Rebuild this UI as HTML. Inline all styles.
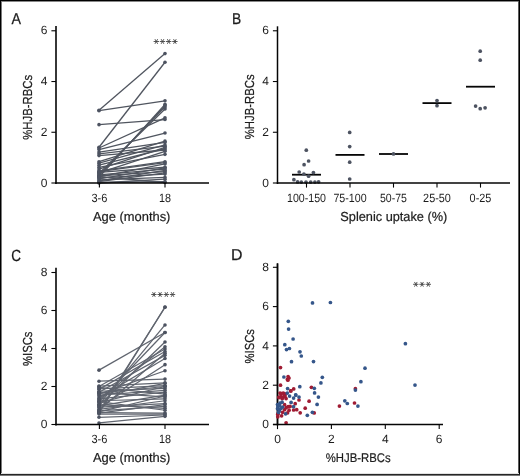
<!DOCTYPE html>
<html><head><meta charset="utf-8"><style>
html,body{margin:0;padding:0;background:#fff;}
body{width:520px;height:476px;overflow:hidden;position:relative;}
svg{position:absolute;left:0;top:0;filter:blur(0.3px);}
text{font-family:"Liberation Sans", sans-serif;text-rendering:geometricPrecision;stroke:#1c1c1c;stroke-width:0.2px;}
text.t{stroke:none;}
text.L{stroke-width:0.25px;}
.b{position:absolute;background:#000;}
</style></head><body>
<svg width="520" height="476" viewBox="0 0 520 476">
<rect x="0" y="0" width="520" height="476" fill="#fff"/>
<text x="11.60" y="24.40" font-size="15.8" text-anchor="start" fill="#1c1c1c" textLength="9.5" lengthAdjust="spacingAndGlyphs" class="L">A</text>
<line x1="56.00" y1="26.00" x2="56.00" y2="184.00" stroke="#050505" stroke-width="1.6" />
<line x1="51.40" y1="183.00" x2="56.00" y2="183.00" stroke="#050505" stroke-width="1.1" />
<text x="47.50" y="186.60" font-size="12" text-anchor="end" fill="#1c1c1c" class="t">0</text>
<line x1="51.40" y1="132.26" x2="56.00" y2="132.26" stroke="#050505" stroke-width="1.1" />
<text x="47.50" y="135.86" font-size="12" text-anchor="end" fill="#1c1c1c" class="t">2</text>
<line x1="51.40" y1="81.52" x2="56.00" y2="81.52" stroke="#050505" stroke-width="1.1" />
<text x="47.50" y="85.12" font-size="12" text-anchor="end" fill="#1c1c1c" class="t">4</text>
<line x1="51.40" y1="30.78" x2="56.00" y2="30.78" stroke="#050505" stroke-width="1.1" />
<text x="47.50" y="34.38" font-size="12" text-anchor="end" fill="#1c1c1c" class="t">6</text>
<text x="32.50" y="107.30" font-size="13.1" text-anchor="middle" fill="#1c1c1c" textLength="65" lengthAdjust="spacingAndGlyphs" transform="rotate(-90 32.50 107.30)" >%HJB-RBCs</text>
<line x1="154.00" y1="41.50" x2="158.60" y2="41.50" stroke="#444444" stroke-width="0.9" stroke-linecap="round"/>
<line x1="155.15" y1="39.51" x2="157.45" y2="43.49" stroke="#444444" stroke-width="0.9" stroke-linecap="round"/>
<line x1="157.45" y1="39.51" x2="155.15" y2="43.49" stroke="#444444" stroke-width="0.9" stroke-linecap="round"/>
<line x1="160.20" y1="41.50" x2="164.80" y2="41.50" stroke="#444444" stroke-width="0.9" stroke-linecap="round"/>
<line x1="161.35" y1="39.51" x2="163.65" y2="43.49" stroke="#444444" stroke-width="0.9" stroke-linecap="round"/>
<line x1="163.65" y1="39.51" x2="161.35" y2="43.49" stroke="#444444" stroke-width="0.9" stroke-linecap="round"/>
<line x1="166.40" y1="41.50" x2="171.00" y2="41.50" stroke="#444444" stroke-width="0.9" stroke-linecap="round"/>
<line x1="167.55" y1="39.51" x2="169.85" y2="43.49" stroke="#444444" stroke-width="0.9" stroke-linecap="round"/>
<line x1="169.85" y1="39.51" x2="167.55" y2="43.49" stroke="#444444" stroke-width="0.9" stroke-linecap="round"/>
<line x1="172.60" y1="41.50" x2="177.20" y2="41.50" stroke="#444444" stroke-width="0.9" stroke-linecap="round"/>
<line x1="173.75" y1="39.51" x2="176.05" y2="43.49" stroke="#444444" stroke-width="0.9" stroke-linecap="round"/>
<line x1="176.05" y1="39.51" x2="173.75" y2="43.49" stroke="#444444" stroke-width="0.9" stroke-linecap="round"/>
<line x1="99.00" y1="110.19" x2="165.00" y2="53.61" stroke="#50555f" stroke-width="1.3" />
<line x1="99.00" y1="110.70" x2="165.00" y2="100.80" stroke="#50555f" stroke-width="1.3" />
<line x1="99.00" y1="124.65" x2="165.00" y2="119.57" stroke="#50555f" stroke-width="1.3" />
<line x1="99.00" y1="147.23" x2="165.00" y2="62.24" stroke="#50555f" stroke-width="1.3" />
<line x1="99.00" y1="147.99" x2="165.00" y2="117.80" stroke="#50555f" stroke-width="1.3" />
<line x1="99.00" y1="149.51" x2="165.00" y2="133.02" stroke="#50555f" stroke-width="1.3" />
<line x1="99.00" y1="152.05" x2="165.00" y2="142.41" stroke="#50555f" stroke-width="1.3" />
<line x1="99.00" y1="153.82" x2="165.00" y2="146.21" stroke="#50555f" stroke-width="1.3" />
<line x1="99.00" y1="155.60" x2="165.00" y2="150.02" stroke="#50555f" stroke-width="1.3" />
<line x1="99.00" y1="177.42" x2="165.00" y2="104.35" stroke="#50555f" stroke-width="1.3" />
<line x1="99.00" y1="175.90" x2="165.00" y2="105.62" stroke="#50555f" stroke-width="1.3" />
<line x1="99.00" y1="174.88" x2="165.00" y2="106.89" stroke="#50555f" stroke-width="1.3" />
<line x1="99.00" y1="173.36" x2="165.00" y2="108.92" stroke="#50555f" stroke-width="1.3" />
<line x1="99.00" y1="161.69" x2="165.00" y2="141.14" stroke="#50555f" stroke-width="1.3" />
<line x1="99.00" y1="163.21" x2="165.00" y2="144.94" stroke="#50555f" stroke-width="1.3" />
<line x1="99.00" y1="165.24" x2="165.00" y2="148.75" stroke="#50555f" stroke-width="1.3" />
<line x1="99.00" y1="167.27" x2="165.00" y2="154.33" stroke="#50555f" stroke-width="1.3" />
<line x1="99.00" y1="169.05" x2="165.00" y2="147.48" stroke="#50555f" stroke-width="1.3" />
<line x1="99.00" y1="170.82" x2="165.00" y2="161.69" stroke="#50555f" stroke-width="1.3" />
<line x1="99.00" y1="172.85" x2="165.00" y2="151.29" stroke="#50555f" stroke-width="1.3" />
<line x1="99.00" y1="171.58" x2="165.00" y2="162.70" stroke="#50555f" stroke-width="1.3" />
<line x1="99.00" y1="172.34" x2="165.00" y2="167.27" stroke="#50555f" stroke-width="1.3" />
<line x1="99.00" y1="174.88" x2="165.00" y2="169.05" stroke="#50555f" stroke-width="1.3" />
<line x1="99.00" y1="175.90" x2="165.00" y2="171.58" stroke="#50555f" stroke-width="1.3" />
<line x1="99.00" y1="176.91" x2="165.00" y2="163.97" stroke="#50555f" stroke-width="1.3" />
<line x1="99.00" y1="177.93" x2="165.00" y2="174.12" stroke="#50555f" stroke-width="1.3" />
<line x1="99.00" y1="178.94" x2="165.00" y2="167.78" stroke="#50555f" stroke-width="1.3" />
<line x1="99.00" y1="179.96" x2="165.00" y2="177.42" stroke="#50555f" stroke-width="1.3" />
<line x1="99.00" y1="180.97" x2="165.00" y2="170.31" stroke="#50555f" stroke-width="1.3" />
<line x1="99.00" y1="181.73" x2="165.00" y2="172.85" stroke="#50555f" stroke-width="1.3" />
<line x1="99.00" y1="182.49" x2="165.00" y2="181.73" stroke="#50555f" stroke-width="1.3" />
<line x1="99.00" y1="183.00" x2="165.00" y2="179.19" stroke="#50555f" stroke-width="1.3" />
<line x1="99.00" y1="176.66" x2="165.00" y2="182.49" stroke="#50555f" stroke-width="1.3" />
<circle cx="99.00" cy="110.19" r="1.8" fill="#4d5361"/>
<circle cx="165.00" cy="53.61" r="1.8" fill="#4d5361"/>
<circle cx="99.00" cy="110.70" r="1.8" fill="#4d5361"/>
<circle cx="165.00" cy="100.80" r="1.8" fill="#4d5361"/>
<circle cx="99.00" cy="124.65" r="1.8" fill="#4d5361"/>
<circle cx="165.00" cy="119.57" r="1.8" fill="#4d5361"/>
<circle cx="99.00" cy="147.23" r="1.8" fill="#4d5361"/>
<circle cx="165.00" cy="62.24" r="1.8" fill="#4d5361"/>
<circle cx="99.00" cy="147.99" r="1.8" fill="#4d5361"/>
<circle cx="165.00" cy="117.80" r="1.8" fill="#4d5361"/>
<circle cx="99.00" cy="149.51" r="1.8" fill="#4d5361"/>
<circle cx="165.00" cy="133.02" r="1.8" fill="#4d5361"/>
<circle cx="99.00" cy="152.05" r="1.8" fill="#4d5361"/>
<circle cx="165.00" cy="142.41" r="1.8" fill="#4d5361"/>
<circle cx="99.00" cy="153.82" r="1.8" fill="#4d5361"/>
<circle cx="165.00" cy="146.21" r="1.8" fill="#4d5361"/>
<circle cx="99.00" cy="155.60" r="1.8" fill="#4d5361"/>
<circle cx="165.00" cy="150.02" r="1.8" fill="#4d5361"/>
<circle cx="99.00" cy="177.42" r="1.8" fill="#4d5361"/>
<circle cx="165.00" cy="104.35" r="1.8" fill="#4d5361"/>
<circle cx="99.00" cy="175.90" r="1.8" fill="#4d5361"/>
<circle cx="165.00" cy="105.62" r="1.8" fill="#4d5361"/>
<circle cx="99.00" cy="174.88" r="1.8" fill="#4d5361"/>
<circle cx="165.00" cy="106.89" r="1.8" fill="#4d5361"/>
<circle cx="99.00" cy="173.36" r="1.8" fill="#4d5361"/>
<circle cx="165.00" cy="108.92" r="1.8" fill="#4d5361"/>
<circle cx="99.00" cy="161.69" r="1.8" fill="#4d5361"/>
<circle cx="165.00" cy="141.14" r="1.8" fill="#4d5361"/>
<circle cx="99.00" cy="163.21" r="1.8" fill="#4d5361"/>
<circle cx="165.00" cy="144.94" r="1.8" fill="#4d5361"/>
<circle cx="99.00" cy="165.24" r="1.8" fill="#4d5361"/>
<circle cx="165.00" cy="148.75" r="1.8" fill="#4d5361"/>
<circle cx="99.00" cy="167.27" r="1.8" fill="#4d5361"/>
<circle cx="165.00" cy="154.33" r="1.8" fill="#4d5361"/>
<circle cx="99.00" cy="169.05" r="1.8" fill="#4d5361"/>
<circle cx="165.00" cy="147.48" r="1.8" fill="#4d5361"/>
<circle cx="99.00" cy="170.82" r="1.8" fill="#4d5361"/>
<circle cx="165.00" cy="161.69" r="1.8" fill="#4d5361"/>
<circle cx="99.00" cy="172.85" r="1.8" fill="#4d5361"/>
<circle cx="165.00" cy="151.29" r="1.8" fill="#4d5361"/>
<circle cx="99.00" cy="171.58" r="1.8" fill="#4d5361"/>
<circle cx="165.00" cy="162.70" r="1.8" fill="#4d5361"/>
<circle cx="99.00" cy="172.34" r="1.8" fill="#4d5361"/>
<circle cx="165.00" cy="167.27" r="1.8" fill="#4d5361"/>
<circle cx="99.00" cy="174.88" r="1.8" fill="#4d5361"/>
<circle cx="165.00" cy="169.05" r="1.8" fill="#4d5361"/>
<circle cx="99.00" cy="175.90" r="1.8" fill="#4d5361"/>
<circle cx="165.00" cy="171.58" r="1.8" fill="#4d5361"/>
<circle cx="99.00" cy="176.91" r="1.8" fill="#4d5361"/>
<circle cx="165.00" cy="163.97" r="1.8" fill="#4d5361"/>
<circle cx="99.00" cy="177.93" r="1.8" fill="#4d5361"/>
<circle cx="165.00" cy="174.12" r="1.8" fill="#4d5361"/>
<circle cx="99.00" cy="178.94" r="1.8" fill="#4d5361"/>
<circle cx="165.00" cy="167.78" r="1.8" fill="#4d5361"/>
<circle cx="99.00" cy="179.96" r="1.8" fill="#4d5361"/>
<circle cx="165.00" cy="177.42" r="1.8" fill="#4d5361"/>
<circle cx="99.00" cy="180.97" r="1.8" fill="#4d5361"/>
<circle cx="165.00" cy="170.31" r="1.8" fill="#4d5361"/>
<circle cx="99.00" cy="181.73" r="1.8" fill="#4d5361"/>
<circle cx="165.00" cy="172.85" r="1.8" fill="#4d5361"/>
<circle cx="99.00" cy="182.49" r="1.8" fill="#4d5361"/>
<circle cx="165.00" cy="181.73" r="1.8" fill="#4d5361"/>
<circle cx="99.00" cy="183.00" r="1.8" fill="#4d5361"/>
<circle cx="165.00" cy="179.19" r="1.8" fill="#4d5361"/>
<circle cx="99.00" cy="176.66" r="1.8" fill="#4d5361"/>
<circle cx="165.00" cy="182.49" r="1.8" fill="#4d5361"/>
<line x1="55.20" y1="183.00" x2="209.00" y2="183.00" stroke="#050505" stroke-width="1.7" />
<line x1="99.40" y1="183.00" x2="99.40" y2="187.60" stroke="#050505" stroke-width="1.1" />
<text x="99.40" y="201.60" font-size="12" text-anchor="middle" fill="#1c1c1c" textLength="16" lengthAdjust="spacingAndGlyphs" class="t">3-6</text>
<line x1="165.00" y1="183.00" x2="165.00" y2="187.60" stroke="#050505" stroke-width="1.1" />
<text x="165.00" y="201.60" font-size="12" text-anchor="middle" fill="#1c1c1c" textLength="12" lengthAdjust="spacingAndGlyphs" class="t">18</text>
<text x="131.70" y="220.90" font-size="13.1" text-anchor="middle" fill="#1c1c1c" textLength="77.5" lengthAdjust="spacingAndGlyphs" >Age (months)</text>
<text x="232.00" y="23.90" font-size="15.6" text-anchor="start" fill="#1c1c1c" textLength="9.2" lengthAdjust="spacingAndGlyphs" class="L">B</text>
<line x1="277.50" y1="26.30" x2="277.50" y2="184.00" stroke="#050505" stroke-width="1.5" />
<line x1="272.90" y1="183.00" x2="277.50" y2="183.00" stroke="#050505" stroke-width="1.1" />
<text x="269.00" y="186.60" font-size="12" text-anchor="end" fill="#1c1c1c" class="t">0</text>
<line x1="272.90" y1="132.26" x2="277.50" y2="132.26" stroke="#050505" stroke-width="1.1" />
<text x="269.00" y="135.86" font-size="12" text-anchor="end" fill="#1c1c1c" class="t">2</text>
<line x1="272.90" y1="81.52" x2="277.50" y2="81.52" stroke="#050505" stroke-width="1.1" />
<text x="269.00" y="85.12" font-size="12" text-anchor="end" fill="#1c1c1c" class="t">4</text>
<line x1="272.90" y1="30.78" x2="277.50" y2="30.78" stroke="#050505" stroke-width="1.1" />
<text x="269.00" y="34.38" font-size="12" text-anchor="end" fill="#1c1c1c" class="t">6</text>
<text x="254.10" y="106.80" font-size="13.1" text-anchor="middle" fill="#1c1c1c" textLength="65" lengthAdjust="spacingAndGlyphs" transform="rotate(-90 254.10 106.80)" >%HJB-RBCs</text>
<line x1="292.00" y1="174.70" x2="321.00" y2="174.70" stroke="#050505" stroke-width="1.8" />
<line x1="335.50" y1="154.90" x2="364.50" y2="154.90" stroke="#050505" stroke-width="1.8" />
<line x1="379.00" y1="154.00" x2="408.00" y2="154.00" stroke="#050505" stroke-width="1.8" />
<line x1="422.50" y1="103.10" x2="451.50" y2="103.10" stroke="#050505" stroke-width="1.8" />
<line x1="466.00" y1="86.70" x2="495.00" y2="86.70" stroke="#050505" stroke-width="1.8" />
<circle cx="306.30" cy="150.20" r="1.85" fill="#4d5361"/>
<circle cx="308.60" cy="161.00" r="1.85" fill="#4d5361"/>
<circle cx="304.10" cy="164.70" r="1.85" fill="#4d5361"/>
<circle cx="299.20" cy="172.00" r="1.85" fill="#4d5361"/>
<circle cx="303.90" cy="174.10" r="1.85" fill="#4d5361"/>
<circle cx="308.60" cy="176.20" r="1.85" fill="#4d5361"/>
<circle cx="313.40" cy="172.60" r="1.85" fill="#4d5361"/>
<circle cx="293.90" cy="179.70" r="1.85" fill="#4d5361"/>
<circle cx="297.60" cy="181.90" r="1.85" fill="#4d5361"/>
<circle cx="301.30" cy="182.10" r="1.85" fill="#4d5361"/>
<circle cx="306.00" cy="182.10" r="1.85" fill="#4d5361"/>
<circle cx="310.70" cy="182.10" r="1.85" fill="#4d5361"/>
<circle cx="314.90" cy="182.10" r="1.85" fill="#4d5361"/>
<circle cx="318.60" cy="181.80" r="1.85" fill="#4d5361"/>
<circle cx="349.70" cy="132.40" r="1.85" fill="#4d5361"/>
<circle cx="349.70" cy="146.60" r="1.85" fill="#4d5361"/>
<circle cx="349.70" cy="162.20" r="1.85" fill="#4d5361"/>
<circle cx="349.70" cy="179.00" r="1.85" fill="#4d5361"/>
<circle cx="393.50" cy="153.90" r="1.85" fill="#4d5361"/>
<circle cx="437.00" cy="100.60" r="1.85" fill="#4d5361"/>
<circle cx="437.00" cy="105.70" r="1.85" fill="#4d5361"/>
<circle cx="480.20" cy="51.20" r="1.85" fill="#4d5361"/>
<circle cx="480.20" cy="60.20" r="1.85" fill="#4d5361"/>
<circle cx="475.60" cy="106.10" r="1.85" fill="#4d5361"/>
<circle cx="480.20" cy="108.70" r="1.85" fill="#4d5361"/>
<circle cx="485.10" cy="107.80" r="1.85" fill="#4d5361"/>
<line x1="276.80" y1="183.00" x2="510.00" y2="183.00" stroke="#050505" stroke-width="1.7" />
<line x1="306.50" y1="183.00" x2="306.50" y2="187.60" stroke="#050505" stroke-width="1.1" />
<text x="306.50" y="201.50" font-size="12" text-anchor="middle" fill="#1c1c1c" textLength="39" lengthAdjust="spacingAndGlyphs" class="t">100-150</text>
<line x1="350.00" y1="183.00" x2="350.00" y2="187.60" stroke="#050505" stroke-width="1.1" />
<text x="350.00" y="201.50" font-size="12" text-anchor="middle" fill="#1c1c1c" textLength="33.2" lengthAdjust="spacingAndGlyphs" class="t">75-100</text>
<line x1="393.50" y1="183.00" x2="393.50" y2="187.60" stroke="#050505" stroke-width="1.1" />
<text x="393.50" y="201.50" font-size="12" text-anchor="middle" fill="#1c1c1c" textLength="27" lengthAdjust="spacingAndGlyphs" class="t">50-75</text>
<line x1="437.00" y1="183.00" x2="437.00" y2="187.60" stroke="#050505" stroke-width="1.1" />
<text x="437.00" y="201.50" font-size="12" text-anchor="middle" fill="#1c1c1c" textLength="27.8" lengthAdjust="spacingAndGlyphs" class="t">25-50</text>
<line x1="480.50" y1="183.00" x2="480.50" y2="187.60" stroke="#050505" stroke-width="1.1" />
<text x="480.50" y="201.50" font-size="12" text-anchor="middle" fill="#1c1c1c" textLength="21.8" lengthAdjust="spacingAndGlyphs" class="t">0-25</text>
<text x="393.80" y="220.60" font-size="13.1" text-anchor="middle" fill="#1c1c1c" textLength="107" lengthAdjust="spacingAndGlyphs" >Splenic uptake (%)</text>
<text x="11.20" y="260.60" font-size="16.3" text-anchor="start" fill="#1c1c1c" textLength="9.8" lengthAdjust="spacingAndGlyphs" class="L">C</text>
<line x1="56.00" y1="267.70" x2="56.00" y2="425.50" stroke="#050505" stroke-width="1.6" />
<line x1="51.40" y1="424.50" x2="56.00" y2="424.50" stroke="#050505" stroke-width="1.1" />
<text x="47.50" y="428.10" font-size="12" text-anchor="end" fill="#1c1c1c" class="t">0</text>
<line x1="51.40" y1="386.50" x2="56.00" y2="386.50" stroke="#050505" stroke-width="1.1" />
<text x="47.50" y="390.10" font-size="12" text-anchor="end" fill="#1c1c1c" class="t">2</text>
<line x1="51.40" y1="348.50" x2="56.00" y2="348.50" stroke="#050505" stroke-width="1.1" />
<text x="47.50" y="352.10" font-size="12" text-anchor="end" fill="#1c1c1c" class="t">4</text>
<line x1="51.40" y1="310.50" x2="56.00" y2="310.50" stroke="#050505" stroke-width="1.1" />
<text x="47.50" y="314.10" font-size="12" text-anchor="end" fill="#1c1c1c" class="t">6</text>
<line x1="51.40" y1="272.50" x2="56.00" y2="272.50" stroke="#050505" stroke-width="1.1" />
<text x="47.50" y="276.10" font-size="12" text-anchor="end" fill="#1c1c1c" class="t">8</text>
<text x="32.50" y="348.80" font-size="13.1" text-anchor="middle" fill="#1c1c1c" textLength="34.4" lengthAdjust="spacingAndGlyphs" transform="rotate(-90 32.50 348.80)" >%ISCs</text>
<line x1="151.60" y1="294.50" x2="156.20" y2="294.50" stroke="#444444" stroke-width="0.9" stroke-linecap="round"/>
<line x1="152.75" y1="292.51" x2="155.05" y2="296.49" stroke="#444444" stroke-width="0.9" stroke-linecap="round"/>
<line x1="155.05" y1="292.51" x2="152.75" y2="296.49" stroke="#444444" stroke-width="0.9" stroke-linecap="round"/>
<line x1="157.80" y1="294.50" x2="162.40" y2="294.50" stroke="#444444" stroke-width="0.9" stroke-linecap="round"/>
<line x1="158.95" y1="292.51" x2="161.25" y2="296.49" stroke="#444444" stroke-width="0.9" stroke-linecap="round"/>
<line x1="161.25" y1="292.51" x2="158.95" y2="296.49" stroke="#444444" stroke-width="0.9" stroke-linecap="round"/>
<line x1="164.00" y1="294.50" x2="168.60" y2="294.50" stroke="#444444" stroke-width="0.9" stroke-linecap="round"/>
<line x1="165.15" y1="292.51" x2="167.45" y2="296.49" stroke="#444444" stroke-width="0.9" stroke-linecap="round"/>
<line x1="167.45" y1="292.51" x2="165.15" y2="296.49" stroke="#444444" stroke-width="0.9" stroke-linecap="round"/>
<line x1="170.20" y1="294.50" x2="174.80" y2="294.50" stroke="#444444" stroke-width="0.9" stroke-linecap="round"/>
<line x1="171.35" y1="292.51" x2="173.65" y2="296.49" stroke="#444444" stroke-width="0.9" stroke-linecap="round"/>
<line x1="173.65" y1="292.51" x2="171.35" y2="296.49" stroke="#444444" stroke-width="0.9" stroke-linecap="round"/>
<line x1="99.00" y1="370.16" x2="165.00" y2="332.54" stroke="#60656f" stroke-width="1.25" />
<line x1="99.00" y1="381.18" x2="165.00" y2="379.09" stroke="#60656f" stroke-width="1.25" />
<line x1="99.00" y1="413.10" x2="165.00" y2="307.08" stroke="#60656f" stroke-width="1.25" />
<line x1="99.00" y1="411.58" x2="165.00" y2="307.27" stroke="#60656f" stroke-width="1.25" />
<line x1="99.00" y1="404.55" x2="165.00" y2="324.94" stroke="#60656f" stroke-width="1.25" />
<line x1="99.00" y1="401.70" x2="165.00" y2="332.54" stroke="#60656f" stroke-width="1.25" />
<line x1="99.00" y1="405.50" x2="165.00" y2="342.04" stroke="#60656f" stroke-width="1.25" />
<line x1="99.00" y1="399.80" x2="165.00" y2="346.79" stroke="#60656f" stroke-width="1.25" />
<line x1="99.00" y1="386.50" x2="165.00" y2="349.07" stroke="#60656f" stroke-width="1.25" />
<line x1="99.00" y1="389.35" x2="165.00" y2="351.54" stroke="#60656f" stroke-width="1.25" />
<line x1="99.00" y1="410.25" x2="165.00" y2="353.25" stroke="#60656f" stroke-width="1.25" />
<line x1="99.00" y1="392.20" x2="165.00" y2="355.34" stroke="#60656f" stroke-width="1.25" />
<line x1="99.00" y1="397.90" x2="165.00" y2="358.57" stroke="#60656f" stroke-width="1.25" />
<line x1="99.00" y1="407.40" x2="165.00" y2="364.65" stroke="#60656f" stroke-width="1.25" />
<line x1="99.00" y1="394.10" x2="165.00" y2="370.73" stroke="#60656f" stroke-width="1.25" />
<line x1="99.00" y1="386.12" x2="165.00" y2="382.89" stroke="#60656f" stroke-width="1.25" />
<line x1="99.00" y1="387.45" x2="165.00" y2="394.10" stroke="#60656f" stroke-width="1.25" />
<line x1="99.00" y1="388.78" x2="165.00" y2="385.55" stroke="#60656f" stroke-width="1.25" />
<line x1="99.00" y1="391.25" x2="165.00" y2="388.40" stroke="#60656f" stroke-width="1.25" />
<line x1="99.00" y1="392.58" x2="165.00" y2="396.95" stroke="#60656f" stroke-width="1.25" />
<line x1="99.00" y1="395.05" x2="165.00" y2="390.30" stroke="#60656f" stroke-width="1.25" />
<line x1="99.00" y1="398.85" x2="165.00" y2="392.20" stroke="#60656f" stroke-width="1.25" />
<line x1="99.00" y1="400.75" x2="165.00" y2="398.85" stroke="#60656f" stroke-width="1.25" />
<line x1="99.00" y1="402.65" x2="165.00" y2="386.50" stroke="#60656f" stroke-width="1.25" />
<line x1="99.00" y1="404.55" x2="165.00" y2="408.35" stroke="#60656f" stroke-width="1.25" />
<line x1="99.00" y1="405.88" x2="165.00" y2="395.05" stroke="#60656f" stroke-width="1.25" />
<line x1="99.00" y1="407.02" x2="165.00" y2="403.60" stroke="#60656f" stroke-width="1.25" />
<line x1="99.00" y1="409.30" x2="165.00" y2="400.75" stroke="#60656f" stroke-width="1.25" />
<line x1="99.00" y1="410.82" x2="165.00" y2="406.45" stroke="#60656f" stroke-width="1.25" />
<line x1="99.00" y1="411.96" x2="165.00" y2="396.00" stroke="#60656f" stroke-width="1.25" />
<line x1="99.00" y1="412.72" x2="165.00" y2="413.10" stroke="#60656f" stroke-width="1.25" />
<line x1="99.00" y1="414.05" x2="165.00" y2="414.05" stroke="#60656f" stroke-width="1.25" />
<line x1="99.00" y1="417.28" x2="165.00" y2="415.00" stroke="#60656f" stroke-width="1.25" />
<line x1="99.00" y1="422.98" x2="165.00" y2="416.33" stroke="#60656f" stroke-width="1.25" />
<line x1="99.00" y1="396.00" x2="165.00" y2="383.27" stroke="#60656f" stroke-width="1.25" />
<line x1="99.00" y1="401.70" x2="165.00" y2="410.25" stroke="#60656f" stroke-width="1.25" />
<line x1="99.00" y1="393.15" x2="165.00" y2="386.50" stroke="#60656f" stroke-width="1.25" />
<line x1="99.00" y1="413.10" x2="165.00" y2="404.55" stroke="#60656f" stroke-width="1.25" />
<circle cx="99.00" cy="370.16" r="1.8" fill="#4d5361"/>
<circle cx="165.00" cy="332.54" r="1.8" fill="#4d5361"/>
<circle cx="99.00" cy="381.18" r="1.8" fill="#4d5361"/>
<circle cx="165.00" cy="379.09" r="1.8" fill="#4d5361"/>
<circle cx="99.00" cy="413.10" r="1.8" fill="#4d5361"/>
<circle cx="165.00" cy="307.08" r="1.8" fill="#4d5361"/>
<circle cx="99.00" cy="411.58" r="1.8" fill="#4d5361"/>
<circle cx="165.00" cy="307.27" r="1.8" fill="#4d5361"/>
<circle cx="99.00" cy="404.55" r="1.8" fill="#4d5361"/>
<circle cx="165.00" cy="324.94" r="1.8" fill="#4d5361"/>
<circle cx="99.00" cy="401.70" r="1.8" fill="#4d5361"/>
<circle cx="165.00" cy="332.54" r="1.8" fill="#4d5361"/>
<circle cx="99.00" cy="405.50" r="1.8" fill="#4d5361"/>
<circle cx="165.00" cy="342.04" r="1.8" fill="#4d5361"/>
<circle cx="99.00" cy="399.80" r="1.8" fill="#4d5361"/>
<circle cx="165.00" cy="346.79" r="1.8" fill="#4d5361"/>
<circle cx="99.00" cy="386.50" r="1.8" fill="#4d5361"/>
<circle cx="165.00" cy="349.07" r="1.8" fill="#4d5361"/>
<circle cx="99.00" cy="389.35" r="1.8" fill="#4d5361"/>
<circle cx="165.00" cy="351.54" r="1.8" fill="#4d5361"/>
<circle cx="99.00" cy="410.25" r="1.8" fill="#4d5361"/>
<circle cx="165.00" cy="353.25" r="1.8" fill="#4d5361"/>
<circle cx="99.00" cy="392.20" r="1.8" fill="#4d5361"/>
<circle cx="165.00" cy="355.34" r="1.8" fill="#4d5361"/>
<circle cx="99.00" cy="397.90" r="1.8" fill="#4d5361"/>
<circle cx="165.00" cy="358.57" r="1.8" fill="#4d5361"/>
<circle cx="99.00" cy="407.40" r="1.8" fill="#4d5361"/>
<circle cx="165.00" cy="364.65" r="1.8" fill="#4d5361"/>
<circle cx="99.00" cy="394.10" r="1.8" fill="#4d5361"/>
<circle cx="165.00" cy="370.73" r="1.8" fill="#4d5361"/>
<circle cx="99.00" cy="386.12" r="1.8" fill="#4d5361"/>
<circle cx="165.00" cy="382.89" r="1.8" fill="#4d5361"/>
<circle cx="99.00" cy="387.45" r="1.8" fill="#4d5361"/>
<circle cx="165.00" cy="394.10" r="1.8" fill="#4d5361"/>
<circle cx="99.00" cy="388.78" r="1.8" fill="#4d5361"/>
<circle cx="165.00" cy="385.55" r="1.8" fill="#4d5361"/>
<circle cx="99.00" cy="391.25" r="1.8" fill="#4d5361"/>
<circle cx="165.00" cy="388.40" r="1.8" fill="#4d5361"/>
<circle cx="99.00" cy="392.58" r="1.8" fill="#4d5361"/>
<circle cx="165.00" cy="396.95" r="1.8" fill="#4d5361"/>
<circle cx="99.00" cy="395.05" r="1.8" fill="#4d5361"/>
<circle cx="165.00" cy="390.30" r="1.8" fill="#4d5361"/>
<circle cx="99.00" cy="398.85" r="1.8" fill="#4d5361"/>
<circle cx="165.00" cy="392.20" r="1.8" fill="#4d5361"/>
<circle cx="99.00" cy="400.75" r="1.8" fill="#4d5361"/>
<circle cx="165.00" cy="398.85" r="1.8" fill="#4d5361"/>
<circle cx="99.00" cy="402.65" r="1.8" fill="#4d5361"/>
<circle cx="165.00" cy="386.50" r="1.8" fill="#4d5361"/>
<circle cx="99.00" cy="404.55" r="1.8" fill="#4d5361"/>
<circle cx="165.00" cy="408.35" r="1.8" fill="#4d5361"/>
<circle cx="99.00" cy="405.88" r="1.8" fill="#4d5361"/>
<circle cx="165.00" cy="395.05" r="1.8" fill="#4d5361"/>
<circle cx="99.00" cy="407.02" r="1.8" fill="#4d5361"/>
<circle cx="165.00" cy="403.60" r="1.8" fill="#4d5361"/>
<circle cx="99.00" cy="409.30" r="1.8" fill="#4d5361"/>
<circle cx="165.00" cy="400.75" r="1.8" fill="#4d5361"/>
<circle cx="99.00" cy="410.82" r="1.8" fill="#4d5361"/>
<circle cx="165.00" cy="406.45" r="1.8" fill="#4d5361"/>
<circle cx="99.00" cy="411.96" r="1.8" fill="#4d5361"/>
<circle cx="165.00" cy="396.00" r="1.8" fill="#4d5361"/>
<circle cx="99.00" cy="412.72" r="1.8" fill="#4d5361"/>
<circle cx="165.00" cy="413.10" r="1.8" fill="#4d5361"/>
<circle cx="99.00" cy="414.05" r="1.8" fill="#4d5361"/>
<circle cx="165.00" cy="414.05" r="1.8" fill="#4d5361"/>
<circle cx="99.00" cy="417.28" r="1.8" fill="#4d5361"/>
<circle cx="165.00" cy="415.00" r="1.8" fill="#4d5361"/>
<circle cx="99.00" cy="422.98" r="1.8" fill="#4d5361"/>
<circle cx="165.00" cy="416.33" r="1.8" fill="#4d5361"/>
<circle cx="99.00" cy="396.00" r="1.8" fill="#4d5361"/>
<circle cx="165.00" cy="383.27" r="1.8" fill="#4d5361"/>
<circle cx="99.00" cy="401.70" r="1.8" fill="#4d5361"/>
<circle cx="165.00" cy="410.25" r="1.8" fill="#4d5361"/>
<circle cx="99.00" cy="393.15" r="1.8" fill="#4d5361"/>
<circle cx="165.00" cy="386.50" r="1.8" fill="#4d5361"/>
<circle cx="99.00" cy="413.10" r="1.8" fill="#4d5361"/>
<circle cx="165.00" cy="404.55" r="1.8" fill="#4d5361"/>
<line x1="55.20" y1="424.50" x2="209.00" y2="424.50" stroke="#050505" stroke-width="1.7" />
<line x1="99.40" y1="424.50" x2="99.40" y2="429.10" stroke="#050505" stroke-width="1.1" />
<text x="99.40" y="442.90" font-size="12" text-anchor="middle" fill="#1c1c1c" textLength="16" lengthAdjust="spacingAndGlyphs" class="t">3-6</text>
<line x1="165.00" y1="424.50" x2="165.00" y2="429.10" stroke="#050505" stroke-width="1.1" />
<text x="165.00" y="442.90" font-size="12" text-anchor="middle" fill="#1c1c1c" textLength="12" lengthAdjust="spacingAndGlyphs" class="t">18</text>
<text x="131.70" y="461.70" font-size="13.1" text-anchor="middle" fill="#1c1c1c" textLength="77.5" lengthAdjust="spacingAndGlyphs" >Age (months)</text>
<text x="230.90" y="259.90" font-size="15.8" text-anchor="start" fill="#1c1c1c" textLength="11.5" lengthAdjust="spacingAndGlyphs" class="L">D</text>
<line x1="277.50" y1="263.40" x2="277.50" y2="425.30" stroke="#050505" stroke-width="1.5" />
<line x1="272.90" y1="424.50" x2="277.50" y2="424.50" stroke="#050505" stroke-width="1.1" />
<text x="269.00" y="428.10" font-size="12" text-anchor="end" fill="#1c1c1c" class="t">0</text>
<line x1="272.90" y1="385.20" x2="277.50" y2="385.20" stroke="#050505" stroke-width="1.1" />
<text x="269.00" y="388.80" font-size="12" text-anchor="end" fill="#1c1c1c" class="t">2</text>
<line x1="272.90" y1="345.90" x2="277.50" y2="345.90" stroke="#050505" stroke-width="1.1" />
<text x="269.00" y="349.50" font-size="12" text-anchor="end" fill="#1c1c1c" class="t">4</text>
<line x1="272.90" y1="306.60" x2="277.50" y2="306.60" stroke="#050505" stroke-width="1.1" />
<text x="269.00" y="310.20" font-size="12" text-anchor="end" fill="#1c1c1c" class="t">6</text>
<line x1="272.90" y1="267.30" x2="277.50" y2="267.30" stroke="#050505" stroke-width="1.1" />
<text x="269.00" y="270.90" font-size="12" text-anchor="end" fill="#1c1c1c" class="t">8</text>
<text x="254.10" y="346.20" font-size="13.1" text-anchor="middle" fill="#1c1c1c" textLength="34.4" lengthAdjust="spacingAndGlyphs" transform="rotate(-90 254.10 346.20)" >%ISCs</text>
<line x1="413.50" y1="284.30" x2="418.10" y2="284.30" stroke="#444444" stroke-width="0.9" stroke-linecap="round"/>
<line x1="414.65" y1="282.31" x2="416.95" y2="286.29" stroke="#444444" stroke-width="0.9" stroke-linecap="round"/>
<line x1="416.95" y1="282.31" x2="414.65" y2="286.29" stroke="#444444" stroke-width="0.9" stroke-linecap="round"/>
<line x1="419.75" y1="284.30" x2="424.35" y2="284.30" stroke="#444444" stroke-width="0.9" stroke-linecap="round"/>
<line x1="420.90" y1="282.31" x2="423.20" y2="286.29" stroke="#444444" stroke-width="0.9" stroke-linecap="round"/>
<line x1="423.20" y1="282.31" x2="420.90" y2="286.29" stroke="#444444" stroke-width="0.9" stroke-linecap="round"/>
<line x1="426.00" y1="284.30" x2="430.60" y2="284.30" stroke="#444444" stroke-width="0.9" stroke-linecap="round"/>
<line x1="427.15" y1="282.31" x2="429.45" y2="286.29" stroke="#444444" stroke-width="0.9" stroke-linecap="round"/>
<line x1="429.45" y1="282.31" x2="427.15" y2="286.29" stroke="#444444" stroke-width="0.9" stroke-linecap="round"/>
<line x1="277.50" y1="263.40" x2="277.50" y2="425.30" stroke="#050505" stroke-width="1.5" />
<circle cx="280.50" cy="367.60" r="1.85" fill="#a01b33"/>
<circle cx="288.10" cy="376.60" r="1.85" fill="#a01b33"/>
<circle cx="287.40" cy="379.40" r="1.85" fill="#a01b33"/>
<circle cx="289.00" cy="378.00" r="1.85" fill="#a01b33"/>
<circle cx="280.50" cy="385.20" r="1.85" fill="#a01b33"/>
<circle cx="311.40" cy="387.30" r="1.85" fill="#a01b33"/>
<circle cx="293.70" cy="388.90" r="1.85" fill="#a01b33"/>
<circle cx="290.90" cy="390.90" r="1.85" fill="#a01b33"/>
<circle cx="281.00" cy="393.60" r="1.85" fill="#a01b33"/>
<circle cx="284.10" cy="393.60" r="1.85" fill="#a01b33"/>
<circle cx="285.10" cy="396.10" r="1.85" fill="#a01b33"/>
<circle cx="279.00" cy="397.10" r="1.85" fill="#a01b33"/>
<circle cx="282.60" cy="397.90" r="1.85" fill="#a01b33"/>
<circle cx="286.10" cy="398.60" r="1.85" fill="#a01b33"/>
<circle cx="299.00" cy="400.00" r="1.85" fill="#a01b33"/>
<circle cx="309.10" cy="401.20" r="1.85" fill="#a01b33"/>
<circle cx="295.20" cy="403.70" r="1.85" fill="#a01b33"/>
<circle cx="284.60" cy="404.70" r="1.85" fill="#a01b33"/>
<circle cx="288.10" cy="406.70" r="1.85" fill="#a01b33"/>
<circle cx="290.10" cy="406.40" r="1.85" fill="#a01b33"/>
<circle cx="286.10" cy="407.70" r="1.85" fill="#a01b33"/>
<circle cx="305.20" cy="408.20" r="1.85" fill="#a01b33"/>
<circle cx="284.60" cy="409.70" r="1.85" fill="#a01b33"/>
<circle cx="289.10" cy="410.20" r="1.85" fill="#a01b33"/>
<circle cx="293.60" cy="410.00" r="1.85" fill="#a01b33"/>
<circle cx="296.70" cy="409.70" r="1.85" fill="#a01b33"/>
<circle cx="282.60" cy="412.30" r="1.85" fill="#a01b33"/>
<circle cx="287.60" cy="412.80" r="1.85" fill="#a01b33"/>
<circle cx="300.20" cy="412.80" r="1.85" fill="#a01b33"/>
<circle cx="314.20" cy="412.90" r="1.85" fill="#a01b33"/>
<circle cx="278.00" cy="413.80" r="1.85" fill="#a01b33"/>
<circle cx="281.60" cy="415.80" r="1.85" fill="#a01b33"/>
<circle cx="277.80" cy="416.80" r="1.85" fill="#a01b33"/>
<circle cx="286.10" cy="422.80" r="1.85" fill="#a01b33"/>
<circle cx="355.40" cy="388.70" r="1.85" fill="#a01b33"/>
<circle cx="354.50" cy="403.00" r="1.85" fill="#a01b33"/>
<circle cx="339.40" cy="406.10" r="1.85" fill="#a01b33"/>
<circle cx="287.90" cy="380.20" r="1.85" fill="#a01b33"/>
<circle cx="280.00" cy="393.10" r="1.85" fill="#a01b33"/>
<circle cx="283.10" cy="393.10" r="1.85" fill="#a01b33"/>
<circle cx="285.10" cy="394.10" r="1.85" fill="#a01b33"/>
<circle cx="281.00" cy="396.60" r="1.85" fill="#a01b33"/>
<circle cx="284.10" cy="396.10" r="1.85" fill="#a01b33"/>
<circle cx="279.00" cy="397.60" r="1.85" fill="#a01b33"/>
<circle cx="282.10" cy="398.60" r="1.85" fill="#a01b33"/>
<circle cx="277.80" cy="414.30" r="1.85" fill="#a01b33"/>
<circle cx="290.60" cy="390.90" r="1.85" fill="#a01b33"/>
<circle cx="312.50" cy="302.90" r="1.85" fill="#35568a"/>
<circle cx="330.40" cy="302.50" r="1.85" fill="#35568a"/>
<circle cx="288.30" cy="321.30" r="1.85" fill="#35568a"/>
<circle cx="288.60" cy="329.10" r="1.85" fill="#35568a"/>
<circle cx="293.10" cy="339.00" r="1.85" fill="#35568a"/>
<circle cx="284.80" cy="344.70" r="1.85" fill="#35568a"/>
<circle cx="289.40" cy="348.50" r="1.85" fill="#35568a"/>
<circle cx="286.50" cy="349.60" r="1.85" fill="#35568a"/>
<circle cx="300.00" cy="351.80" r="1.85" fill="#35568a"/>
<circle cx="301.30" cy="356.00" r="1.85" fill="#35568a"/>
<circle cx="291.50" cy="361.70" r="1.85" fill="#35568a"/>
<circle cx="313.50" cy="361.60" r="1.85" fill="#35568a"/>
<circle cx="283.90" cy="377.00" r="1.85" fill="#35568a"/>
<circle cx="322.30" cy="377.30" r="1.85" fill="#35568a"/>
<circle cx="320.90" cy="382.90" r="1.85" fill="#35568a"/>
<circle cx="365.00" cy="368.20" r="1.85" fill="#35568a"/>
<circle cx="360.90" cy="381.70" r="1.85" fill="#35568a"/>
<circle cx="299.80" cy="386.70" r="1.85" fill="#35568a"/>
<circle cx="314.30" cy="388.30" r="1.85" fill="#35568a"/>
<circle cx="287.60" cy="388.60" r="1.85" fill="#35568a"/>
<circle cx="314.60" cy="392.90" r="1.85" fill="#35568a"/>
<circle cx="287.30" cy="393.10" r="1.85" fill="#35568a"/>
<circle cx="295.70" cy="394.90" r="1.85" fill="#35568a"/>
<circle cx="289.60" cy="396.10" r="1.85" fill="#35568a"/>
<circle cx="299.00" cy="397.10" r="1.85" fill="#35568a"/>
<circle cx="293.60" cy="398.10" r="1.85" fill="#35568a"/>
<circle cx="318.40" cy="397.10" r="1.85" fill="#35568a"/>
<circle cx="317.10" cy="404.40" r="1.85" fill="#35568a"/>
<circle cx="344.80" cy="400.80" r="1.85" fill="#35568a"/>
<circle cx="347.30" cy="403.50" r="1.85" fill="#35568a"/>
<circle cx="357.90" cy="406.10" r="1.85" fill="#35568a"/>
<circle cx="355.40" cy="390.10" r="1.85" fill="#35568a"/>
<circle cx="291.10" cy="402.40" r="1.85" fill="#35568a"/>
<circle cx="280.00" cy="403.20" r="1.85" fill="#35568a"/>
<circle cx="282.10" cy="402.20" r="1.85" fill="#35568a"/>
<circle cx="278.00" cy="406.70" r="1.85" fill="#35568a"/>
<circle cx="282.60" cy="407.00" r="1.85" fill="#35568a"/>
<circle cx="293.60" cy="406.70" r="1.85" fill="#35568a"/>
<circle cx="277.50" cy="408.70" r="1.85" fill="#35568a"/>
<circle cx="279.50" cy="409.70" r="1.85" fill="#35568a"/>
<circle cx="279.00" cy="411.30" r="1.85" fill="#35568a"/>
<circle cx="285.60" cy="413.80" r="1.85" fill="#35568a"/>
<circle cx="307.30" cy="415.30" r="1.85" fill="#35568a"/>
<circle cx="312.40" cy="412.30" r="1.85" fill="#35568a"/>
<circle cx="405.40" cy="343.70" r="1.85" fill="#35568a"/>
<circle cx="415.00" cy="385.10" r="1.85" fill="#35568a"/>
<circle cx="277.50" cy="404.50" r="1.85" fill="#35568a"/>
<circle cx="279.50" cy="405.50" r="1.85" fill="#35568a"/>
<circle cx="281.00" cy="408.50" r="1.85" fill="#35568a"/>
<circle cx="278.50" cy="412.50" r="1.85" fill="#35568a"/>
<circle cx="295.70" cy="395.10" r="1.85" fill="#35568a"/>
<line x1="273.00" y1="424.50" x2="443.00" y2="424.50" stroke="#050505" stroke-width="1.7" />
<line x1="277.50" y1="424.50" x2="277.50" y2="429.10" stroke="#050505" stroke-width="1.1" />
<text x="277.50" y="443.00" font-size="12" text-anchor="middle" fill="#1c1c1c" class="t">0</text>
<line x1="331.40" y1="424.50" x2="331.40" y2="429.10" stroke="#050505" stroke-width="1.1" />
<text x="331.40" y="443.00" font-size="12" text-anchor="middle" fill="#1c1c1c" class="t">2</text>
<line x1="385.30" y1="424.50" x2="385.30" y2="429.10" stroke="#050505" stroke-width="1.1" />
<text x="385.30" y="443.00" font-size="12" text-anchor="middle" fill="#1c1c1c" class="t">4</text>
<line x1="439.20" y1="424.50" x2="439.20" y2="429.10" stroke="#050505" stroke-width="1.1" />
<text x="439.20" y="443.00" font-size="12" text-anchor="middle" fill="#1c1c1c" class="t">6</text>
<text x="358.20" y="462.20" font-size="12.6" text-anchor="middle" fill="#1c1c1c" textLength="65" lengthAdjust="spacingAndGlyphs" >%HJB-RBCs</text>
</svg>
<div class="b" style="left:0;top:0;width:520px;height:1px;background:#000"></div>
<div class="b" style="left:1px;top:1px;width:518px;height:1px;background:#888"></div>
<div class="b" style="left:0;top:0;width:1px;height:476px;background:#000"></div>
<div class="b" style="left:1px;top:1px;width:1px;height:474px;background:#7a7a7a"></div>
<div class="b" style="left:519px;top:0;width:1px;height:476px;background:#000"></div>
<div class="b" style="left:518px;top:1px;width:1px;height:474px;background:#5a5a5a"></div>
<div class="b" style="left:1px;top:473px;width:518px;height:1px;background:#e2e2e2"></div>
<div class="b" style="left:0;top:474px;width:520px;height:1px;background:#262626"></div>
<div class="b" style="left:0;top:475px;width:520px;height:1px;background:#777"></div>
</body></html>
